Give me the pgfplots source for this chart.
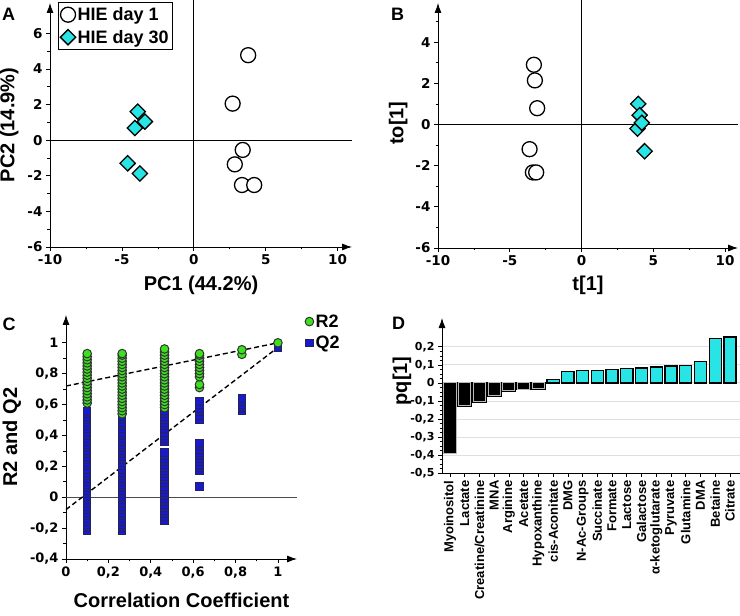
\documentclass[border=0pt]{standalone}
\usepackage{fontspec}
\setmainfont{Liberation Sans}
\newfontfamily\tickfont{DejaVu Sans}
\usepackage{pgfplots}
\pgfplotsset{compat=1.18}
\usetikzlibrary{arrows.meta}
\definecolor{cy}{RGB}{40,228,228}
\definecolor{gr}{RGB}{60,225,30}
\definecolor{bl}{RGB}{25,25,205}
\definecolor{nv}{RGB}{35,35,85}
\newcommand\tkA{\fontsize{13.5}{13.5}\selectfont\tickfont\bfseries}
\newcommand\tkC{\fontsize{13}{13}\selectfont\tickfont\bfseries}
\newcommand\tkD{\fontsize{11}{11}\selectfont\tickfont\bfseries}
\newcommand\cat{\fontsize{13}{13}\selectfont\bfseries}
\pgfplotsset{
  base/.style={
    scale only axis,
    anchor=south west,
    axis lines=left,
    axis line style={line width=0.8pt, -{Latex[length=10pt,width=7pt]}},
    tick align=outside,
    major tick length=4pt, minor tick length=2.5pt,
    tick style={black, line width=0.7pt},
    xticklabel={\tkA\pgfmathprintnumber{\tick}},
    yticklabel={\tkA\pgfmathprintnumber{\tick}},
    label style={font=\fontsize{20}{20}\selectfont\bfseries},
    /pgf/number format/assume math mode=true,
    clip=false,
  },
  circ/.style={only marks, mark=*, mark size=7.5pt, mark options={fill=white, draw=black, line width=1.3pt}},
  diam/.style={only marks, mark=square*, mark size=5.4pt, mark options={fill=cy, draw=black, line width=1.3pt, rotate=45}},
}
\begin{document}
\begin{tikzpicture}
\useasboundingbox (0,0) rectangle (740pt,616pt);
% ---------------- A
\begin{axis}[base, at={(50pt,369pt)}, width=302pt, height=244pt,
  xmin=-10, xmax=11, ymin=-6, ymax=7.7,
  xtick={-10,-5,0,5,10}, minor xtick={-7.5,-2.5,2.5,7.5},
  ytick={-6,-4,...,6}, minor ytick={-5,-3,...,5},
  xlabel={PC1 (44.2\%)}, ylabel={PC2 (14.9\%)},
  xlabel style={at={(axis description cs:0.5,-0.156)}, anchor=center},
  ylabel style={at={(axis description cs:-0.135,0.5)}, anchor=center},
  legend style={at={(axis description cs:0.0265,1.004)}, anchor=north west, draw=black, line width=0.8pt,
    font=\fontsize{18}{18}\selectfont\bfseries, inner xsep=2pt, inner ysep=3pt, row sep=4pt},
  legend cell align=left]
\addplot[black, line width=0.7pt, forget plot] coordinates {(0,-6) (0,7.85)};
\addplot[black, line width=0.7pt, forget plot] coordinates {(-10,0) (11,0)};
\addplot[circ] coordinates {(3.78,4.77) (2.7,2.05) (3.4,-0.55) (2.85,-1.36) (3.35,-2.52) (4.2,-2.52)};
\addlegendentry{HIE day 1}
\addplot[diam] coordinates {(-3.9,1.6) (-3.4,1.04) (-4.1,0.68) (-4.6,-1.3) (-3.75,-1.87)};
\addlegendentry{HIE day 30}
\end{axis}
% ---------------- B
\begin{axis}[base, at={(438pt,368pt)}, width=300pt, height=245pt,
  xmin=-10, xmax=10.9, ymin=-6, ymax=5.9,
  xtick={-10,-5,0,5,10}, minor xtick={-7.5,-2.5,2.5,7.5},
  ytick={-6,-4,...,4}, minor ytick={-5,-3,...,5},
  xlabel={t[1]}, ylabel={to[1]},
  xlabel style={at={(axis description cs:0.5,-0.151)}, anchor=center},
  ylabel style={at={(axis description cs:-0.133,0.51)}, anchor=center}]
\addplot[black, line width=0.7pt] coordinates {(0,-6) (0,6.05)};
\addplot[black, line width=0.7pt] coordinates {(-10,0) (10.9,0)};
\addplot[circ] coordinates {(-3.32,2.9) (-3.25,2.14) (-3.09,0.79) (-3.62,-1.2) (-3.39,-2.33) (-3.16,-2.33)};
\addplot[diam] coordinates {(3.95,1.0) (4.05,0.45) (3.9,-0.2) (4.2,0.08) (4.39,-1.3)};
\end{axis}
% ---------------- C
\begin{axis}[base, at={(66pt,57pt)}, width=231pt, height=244pt,
  xmin=0, xmax=1.09, ymin=-0.4, ymax=1.18,
  xtick={0,0.2,...,1}, minor xtick={0.1,0.3,...,0.9},
  ytick={-0.4,-0.2,...,1}, minor ytick={-0.3,-0.1,...,0.9},
  xticklabel={\tkC\pgfmathprintnumber{\tick}},
  yticklabel={\tkC\pgfmathprintnumber{\tick}},
  /pgf/number format/.cd, fixed, use comma, precision=1, /pgfplots/.cd,
  xlabel={Correlation Coefficient}, ylabel={R2 and Q2},
  xlabel style={at={(axis description cs:0.5,-0.168)}, anchor=center},
  ylabel style={at={(axis description cs:-0.234,0.5)}, anchor=center},
  legend style={at={(axis description cs:1.03,1.015)}, anchor=north west, draw=none, fill=none,
    font=\fontsize{18}{18}\selectfont\bfseries, inner sep=1pt, row sep=3pt},
  legend cell align=left, reverse legend]
\addplot[gray!60!black, line width=0.8pt, forget plot] coordinates {(0,0) (1.09,0)};
\addplot[only marks, mark=square*, mark size=3.6pt, mark options={fill=bl, draw=nv, line width=0.9pt}] coordinates {
(0.1,-0.22) (0.1,-0.2) (0.1,-0.18) (0.1,-0.16) (0.1,-0.14) (0.1,-0.12) (0.1,-0.1) (0.1,-0.08) (0.1,-0.06) (0.1,-0.04)
(0.1,-0.02) (0.1,0) (0.1,0.02) (0.1,0.04) (0.1,0.06) (0.1,0.08) (0.1,0.1) (0.1,0.12) (0.1,0.14) (0.1,0.16)
(0.1,0.18) (0.1,0.2) (0.1,0.22) (0.1,0.24) (0.1,0.26) (0.1,0.28) (0.1,0.3) (0.1,0.32) (0.1,0.34) (0.1,0.36)
(0.1,0.38) (0.1,0.4) (0.1,0.42) (0.1,0.44) (0.1,0.46) (0.1,0.48) (0.1,0.5) (0.1,0.52) (0.1,0.54) (0.1,0.56)
(0.265,-0.22) (0.265,-0.2) (0.265,-0.18) (0.265,-0.16) (0.265,-0.14) (0.265,-0.12) (0.265,-0.1) (0.265,-0.08) (0.265,-0.06) (0.265,-0.04)
(0.265,-0.02) (0.265,0) (0.265,0.02) (0.265,0.04) (0.265,0.06) (0.265,0.08) (0.265,0.1) (0.265,0.12) (0.265,0.14) (0.265,0.16)
(0.265,0.18) (0.265,0.2) (0.265,0.22) (0.265,0.24) (0.265,0.26) (0.265,0.28) (0.265,0.3) (0.265,0.32) (0.265,0.34) (0.265,0.36)
(0.265,0.38) (0.265,0.4) (0.265,0.42) (0.265,0.44) (0.265,0.46) (0.265,0.48) (0.265,0.5) (0.265,0.52) (0.265,0.54) (0.265,0.56)
(0.265,0.58) (0.265,0.6) (0.265,0.62) (0.265,0.64) (0.265,0.66) (0.265,0.68) (0.265,0.7) (0.265,0.72)
(0.465,-0.15) (0.465,-0.13) (0.465,-0.11) (0.465,-0.09) (0.465,-0.07) (0.465,-0.05) (0.465,-0.03) (0.465,-0.01) (0.465,0.01) (0.465,0.03)
(0.465,0.05) (0.465,0.07) (0.465,0.09) (0.465,0.11) (0.465,0.13) (0.465,0.15) (0.465,0.17) (0.465,0.19) (0.465,0.21) (0.465,0.23)
(0.465,0.25) (0.465,0.27) (0.465,0.29)
(0.465,0.36) (0.465,0.38) (0.465,0.4) (0.465,0.42) (0.465,0.44) (0.465,0.46) (0.465,0.48) (0.465,0.5) (0.465,0.52) (0.465,0.54)
(0.465,0.56) (0.465,0.58) (0.465,0.6) (0.465,0.62) (0.465,0.64) (0.465,0.66) (0.465,0.68) (0.465,0.7) (0.465,0.72)
(0.63,0.07) (0.63,0.17) (0.63,0.19) (0.63,0.21) (0.63,0.23) (0.63,0.25) (0.63,0.27) (0.63,0.29) (0.63,0.31) (0.63,0.33) (0.63,0.35)
(0.63,0.5) (0.63,0.53) (0.63,0.55) (0.63,0.57) (0.63,0.6) (0.63,0.62)
(0.83,0.56) (0.83,0.58) (0.83,0.6) (0.83,0.62) (0.83,0.64)
(1.0,0.97)};
\addlegendentry{Q2}
\addplot[only marks, mark=*, mark size=4.3pt, mark options={fill=gr, draw=black!80, line width=1pt}] coordinates {
(0.1,0.61) (0.1,0.63) (0.1,0.65) (0.1,0.67) (0.1,0.69) (0.1,0.71) (0.1,0.73) (0.1,0.75) (0.1,0.77) (0.1,0.79)
(0.1,0.81) (0.1,0.83) (0.1,0.85) (0.1,0.87) (0.1,0.89) (0.1,0.91) (0.1,0.93)
(0.265,0.54) (0.265,0.56) (0.265,0.58) (0.265,0.6) (0.265,0.62) (0.265,0.64) (0.265,0.66) (0.265,0.68) (0.265,0.7) (0.265,0.72)
(0.265,0.74) (0.265,0.76) (0.265,0.78) (0.265,0.8) (0.265,0.82) (0.265,0.84) (0.265,0.86) (0.265,0.88) (0.265,0.9) (0.265,0.92) (0.265,0.93)
(0.465,0.58) (0.465,0.6) (0.465,0.62) (0.465,0.64) (0.465,0.66) (0.465,0.68) (0.465,0.7) (0.465,0.72) (0.465,0.74) (0.465,0.76)
(0.465,0.78) (0.465,0.8) (0.465,0.82) (0.465,0.84) (0.465,0.86) (0.465,0.88) (0.465,0.9) (0.465,0.92) (0.465,0.94) (0.465,0.96)
(0.63,0.71) (0.63,0.73) (0.63,0.78) (0.63,0.8) (0.63,0.82) (0.63,0.84) (0.63,0.86) (0.63,0.88) (0.63,0.9) (0.63,0.92) (0.63,0.93)
(0.83,0.925) (0.83,0.955)
(1.0,1.0)};
\addlegendentry{R2}
\addplot[black, line width=1.4pt, dash pattern=on 5pt off 3pt, forget plot] coordinates {(0,0.72) (1,1.0)};
\addplot[black, line width=1.4pt, dash pattern=on 5pt off 3pt, forget plot] coordinates {(0,-0.08) (1,0.97)};
\end{axis}
% ---------------- D
\begin{axis}[base, at={(442pt,143pt)}, width=298pt, height=155pt,
  xmin=-0.54, xmax=19.68, ymin=-0.5, ymax=0.36,
  x axis line style={-},
  ytick={-0.5,-0.4,...,0.2}, minor y tick num=3,
  ymajorgrids, grid style={gray!25, line width=0.8pt},
  yticklabel={\tkD\pgfmathprintnumber{\tick}},
  /pgf/number format/.cd, fixed, use comma, precision=1, /pgfplots/.cd,
  xtick={0,...,19},
  xticklabel={},
  xticklabels={{\cat Myoinositol},{\cat Lactate},{\cat Creatine/Creatinine},{\cat MNA},{\cat Arginine},{\cat Acetate},{\cat Hypoxanthine},{\cat cis-Aconitate},{\cat DMG},{\cat N-Ac-Groups},{\cat Succinate},{\cat Formate},{\cat Lactose},{\cat Galactose},{\cat α-ketoglutarate},{\cat Pyruvate},{\cat Glutamine},{\cat DMA},{\cat Betaine},{\cat Citrate}},
  xticklabel style={rotate=90, anchor=east},
  ylabel={pq[1]},
  ylabel style={at={(axis description cs:-0.134,0.594)}, anchor=center}]
\addplot[ybar, bar width=0.82, bar shift=0pt, fill=black, draw=black, line width=0.8pt, double=gray!55, double distance=1pt] coordinates {
(0,-0.39) (1,-0.125) (2,-0.105) (3,-0.07) (4,-0.045) (5,-0.035) (6,-0.03)};
\addplot[ybar, bar width=0.82, bar shift=0pt, fill=cy, draw=black, line width=1.3pt] coordinates {
(7,0.02) (8,0.065) (9,0.07) (10,0.07) (11,0.075) (12,0.078) (13,0.082) (14,0.088) (15,0.093) (16,0.097) (17,0.12) (18,0.245) (19,0.255)};
\end{axis}
% panel letters
\node[font=\fontsize{18}{18}\selectfont\bfseries] at (8.5pt,602pt) {A};
\node[font=\fontsize{18}{18}\selectfont\bfseries] at (397.5pt,602pt) {B};
\node[font=\fontsize{18}{18}\selectfont\bfseries] at (9pt,292pt) {C};
\node[font=\fontsize{18}{18}\selectfont\bfseries] at (398.5pt,292.5pt) {D};
\end{tikzpicture}
\end{document}
